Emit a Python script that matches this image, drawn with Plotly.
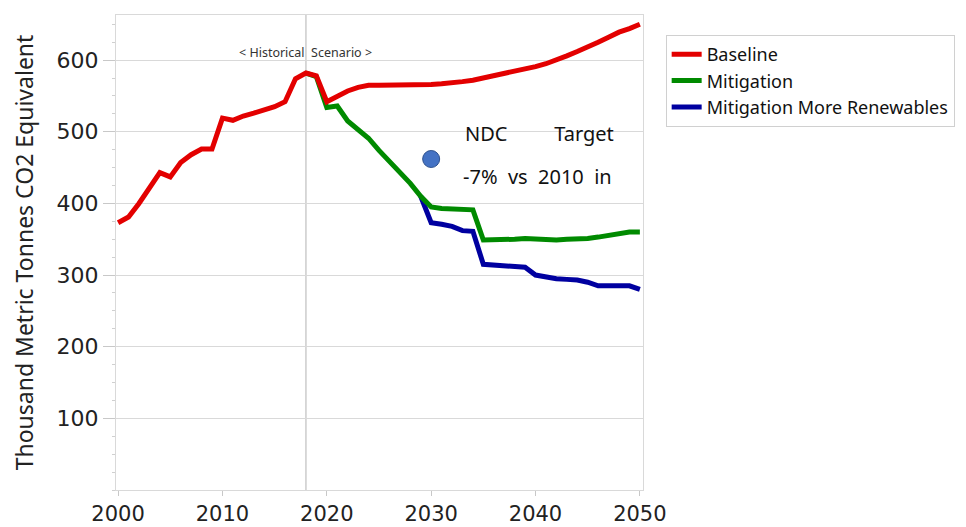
import plotly.graph_objects as go

# historical + baseline projection
baseline_years = list(range(2000, 2051))
baseline = [373, 381, 400, 423, 443, 437, 457, 468, 476, 476,
            519, 516, 522, 526, 531, 535, 542, 574, 582, 578,
            542, 550, 557, 562, 565, 565, 565, 565, 565, 565,
            566, 567, 568, 570, 572, 575, 578, 581, 585, 588,
            591, 595, 600, 606, 612, 618, 625, 632, 639, 644, 650]

mitigation_years = list(range(2018, 2051))
mitigation = [582, 577, 534, 536, 515, 503, 491, 474, 459, 445, 428, 410,
              395, 393, 392, 392, 391, 349, 349, 349, 350, 351,
              350, 349, 349, 350, 350, 351, 353, 355, 358, 360, 360]

renew_years = list(range(2029, 2051))
renewables = [410, 373, 371, 368, 362, 361, 315, 314, 313, 312, 311,
              300, 297, 295, 294, 293, 290, 285, 285, 285, 285, 280]

ndc_year = [2030]
ndc_value = [462]

RED = "#E30000"
GREEN = "#008A00"
BLUE = "#0000A0"
GRID = "#D9D9D9"
FONT = "Noto Sans"
TICKFONT = "DejaVu Sans"

fig = go.Figure()
fig.add_trace(go.Scatter(x=renew_years, y=renewables, mode="lines", name="Mitigation More Renewables",
                         line=dict(color=BLUE, width=5), legendrank=3))
fig.add_trace(go.Scatter(x=mitigation_years, y=mitigation, mode="lines", name="Mitigation",
                         line=dict(color=GREEN, width=5), legendrank=2))
fig.add_trace(go.Scatter(x=baseline_years, y=baseline, mode="lines", name="Baseline",
                         line=dict(color=RED, width=5), legendrank=1))
fig.add_trace(go.Scatter(x=ndc_year, y=ndc_value, mode="markers", showlegend=False,
                         marker=dict(size=17, color="#4472C4", line=dict(color="#2F528F", width=1))))

fig.add_shape(type="line", x0=2018, x1=2018, y0=0, y1=1, yref="paper",
              line=dict(color="#CCCCCC", width=1.5), layer="below")

fig.add_annotation(x=2018, y=610, text="<\u00a0Historical\u00a0\u00a0Scenario\u00a0>", showarrow=False,
                   font=dict(size=12.5, color="#333333", family=FONT))
fig.add_annotation(x=2040.4, y=498, text="NDC\u00a0\u00a0\u00a0\u00a0\u00a0\u00a0\u00a0\u00a0\u00a0Target",
                   showarrow=False, font=dict(size=20, color="#111111", family=FONT))
fig.add_annotation(x=2040.2, y=437, text="-7%\u00a0\u00a0vs\u00a0\u00a02010\u00a0\u00a0in",
                   showarrow=False, font=dict(size=20, color="#111111", family=FONT))

# page body adds an 8px offset, so the figure is sized to fill the window from there
fig.update_layout(
    width=958, height=519,
    margin=dict(l=108, r=323, t=7, b=37),
    paper_bgcolor="white", plot_bgcolor="white",
    font=dict(family=FONT, color="#222222"),
    legend=dict(x=1.043, y=0.958, xanchor="left", yanchor="top",
                bordercolor="#D0D0D0", borderwidth=1, font=dict(size=18, color="#111111")),
)
fig.update_xaxes(range=[1999.8, 2050.3], tickvals=[2000, 2010, 2020, 2030, 2040, 2050],
                 showgrid=False, showline=True, linecolor=GRID, mirror=True,
                 ticks="outside", ticklen=5, tickcolor="#C8C8C8",
                 tickfont=dict(size=21, family=TICKFONT), zeroline=False, automargin=False)
fig.update_yaxes(range=[0, 663], tickvals=[100, 200, 300, 400, 500, 600],
                 showgrid=True, gridcolor=GRID, showline=True, linecolor=GRID, mirror=True,
                 ticks="outside", ticklen=12, tickcolor="#C8C8C8",
                 minor=dict(dtick=25, ticks="outside", ticklen=3, tickcolor="#D0D0D0", showgrid=False),
                 tickfont=dict(size=22, family=TICKFONT), zeroline=False, automargin=False,
                 title=dict(text="Thousand Metric Tonnes CO2 Equivalent", font=dict(size=23), standoff=21))

fig.write_html("out.html")
